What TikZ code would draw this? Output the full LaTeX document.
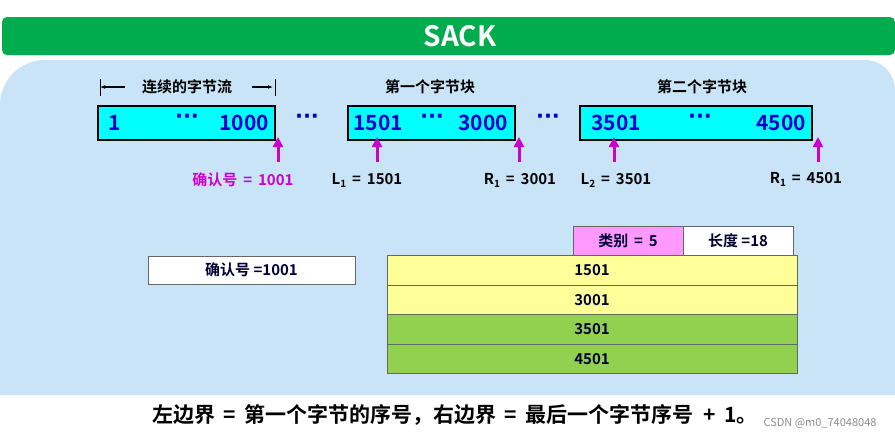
\documentclass[tikz,border=0pt]{standalone}
\usepackage{fontspec}
\setmainfont{Noto Sans CJK SC}[BoldFont={Noto Sans CJK SC Bold}]
\newfontfamily\latf{DejaVu Sans}
\usetikzlibrary{arrows.meta}
\definecolor{gbar}{HTML}{00AC4E}
\definecolor{panel}{HTML}{C9E4F6}
\definecolor{numblue}{HTML}{0000CC}
\definecolor{mag}{HTML}{CC00CC}
\definecolor{yel}{HTML}{FFFF99}
\definecolor{grn}{HTML}{92D050}
\definecolor{pink}{HTML}{FF99FF}
\definecolor{cyn}{HTML}{00FFFF}
\newcommand{\sbx}[1]{\raisebox{-3pt}{\fontsize{10}{10}\selectfont #1}}
\newcommand{\dts}{{\latf\bfseries ···}}
\begin{document}
\begin{tikzpicture}[x=1pt,y=-1pt,
  seg/.style={draw=black,line width=2pt,fill=cyn},
  num/.style={text=numblue,font=\fontsize{21}{22}\selectfont\bfseries,inner sep=0pt},
  lbl/.style={font=\fontsize{15}{16}\selectfont\bfseries,inner sep=0pt},
  ptr/.style={draw=mag,line width=3pt,-{Triangle[length=10pt,width=10pt]}},
  cell/.style={draw=black!60,line width=0.6pt,font=\fontsize{15}{16}\selectfont\bfseries,text=black!80!blue}]
\useasboundingbox (0,0) rectangle (895,440);
\fill[white] (0,0) rectangle (895,440);
\fill[gbar,rounded corners=5pt] (2,17) rectangle (895,55);
\node[text=white,font=\fontsize{28}{29}\selectfont\bfseries] (title) at (460,36) {SACK};
\fill[panel] (0,395) [rounded corners=45pt]-- (0,60) [rounded corners=30pt]-- (895,60) [sharp corners]-- (895,395) -- cycle;
% blocks
\draw[seg] (98,106) rectangle (275,140);
\draw[seg] (348,106) rectangle (515,140);
\draw[seg] (580,106) rectangle (812,140);
\node[num] (a1) at (115,123) {1};
\node[num] (a2) at (187,119) {\dts};
\node[num,anchor=east] (a3) at (269,123) {1000};
\node[num] (d1) at (307,119) {\dts};
\node[num] (b1) at (378,123) {1501};
\node[num] (b2) at (432,119) {\dts};
\node[num,anchor=east] (b3) at (508,123) {3000};
\node[num] (d2) at (548,119) {\dts};
\node[num] (c1) at (616,123) {3501};
\node[num] (c2) at (700,119) {\dts};
\node[num,anchor=east] (c3) at (806,123) {4500};
% top labels
\node[lbl] (t1) at (187,87) {连续的字节流};
\coordinate (s1) at (100,87); \coordinate (s2) at (273,87);
\draw[line width=1pt] (100,79) -- (100,96); \draw[line width=1pt] (275,79) -- (275,96);
\draw[line width=1.5pt,-{Latex[length=5pt]}] (125,87) -- (s1);
\draw[line width=1.5pt,-{Latex[length=5pt]}] (252,87) -- (s2);
\node[lbl] (t2) at (430,87) {第一个字节块};
\node[lbl] (t3) at (702,87) {第二个字节块};
% pointers
\coordinate (p1) at (278,137); \coordinate (p2) at (377,137); \coordinate (p3) at (519,137);
\coordinate (p4) at (614,137); \coordinate (p5) at (818,137);
\foreach \p in {p1,p2,p3,p4,p5} \draw[ptr] (\p) ++(0,25) -- (\p);
\node[lbl,text=mag] (l1) at (243,180) {确认号 \,=\, 1001};
\node[lbl] (l2) at (367,180) {L\sbx{1} \,=\, 1501};
\node[lbl] (l3) at (520,180) {R\sbx{1} \,=\, 3001};
\node[lbl] (l4) at (616,180) {L\sbx{2} \,=\, 3501};
\node[lbl] (l5) at (806,179) {R\sbx{1} \,=\, 4501};
% table
\node[cell,fill=pink,minimum width=110pt,minimum height=29pt] (kind) at (628,240.5) {类别 \,=\, 5};
\node[cell,fill=white,minimum width=110pt,minimum height=29pt] (len) at (738,240.5) {长度 =18};
\node[cell,fill=yel,minimum width=410pt,minimum height=29.5pt] (r1) at (592,270.5) {1501};
\node[cell,fill=yel,minimum width=410pt,minimum height=29.5pt] (r2) at (592,300) {3001};
\node[cell,fill=grn,minimum width=410pt,minimum height=29.5pt] (r3) at (592,329.5) {3501};
\node[cell,fill=grn,minimum width=410pt,minimum height=29.5pt] (r4) at (592,359) {4501};
\node[cell,fill=white,minimum width=207pt,minimum height=28pt] (ack) at (251.5,270) {确认号 =1001};
\node[font=\fontsize{21}{22}\selectfont\bfseries] (foot) at (455,415) {左边界 \,=\, 第一个字节的序号，右边界 \,=\, 最后一个字节序号 \;+\, 1。};
\node[text=black!45,font=\fontsize{11}{12}\selectfont,anchor=east] (wm) at (880,423) {CSDN @m0\_74048048};
\end{tikzpicture}
\end{document}
